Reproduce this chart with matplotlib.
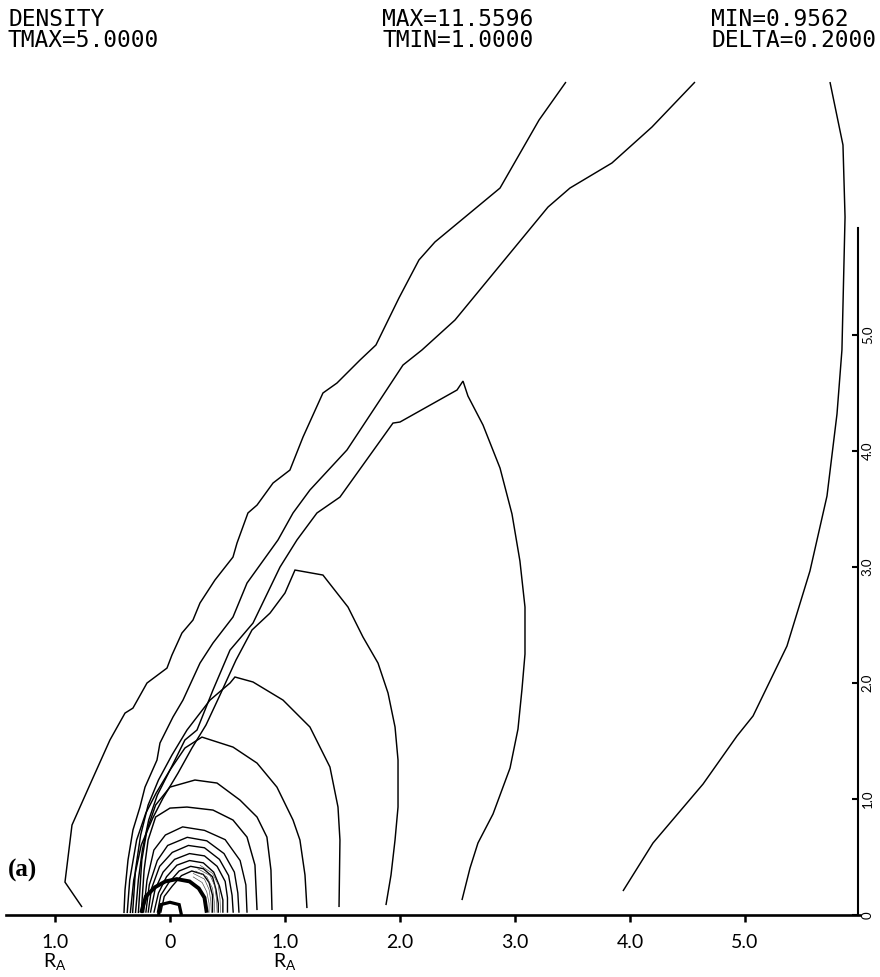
import matplotlib
matplotlib.use("Agg")
import matplotlib.pyplot as plt

# Density contour lines, (x, y) in units of R_A
outer_front = [(-0.765, 0.069), (-0.913, 0.284), (-0.852, 0.776), (-0.678, 1.164), (-0.522, 1.509),
               (-0.391, 1.741), (-0.322, 1.784), (-0.200, 2.000), (-0.026, 2.129), (0.017, 2.241),
               (0.104, 2.431), (0.200, 2.543), (0.261, 2.690), (0.391, 2.888), (0.548, 3.086),
               (0.583, 3.207), (0.678, 3.466), (0.757, 3.534), (0.896, 3.724), (1.043, 3.836),
               (1.157, 4.121), (1.330, 4.500), (1.452, 4.586), (1.652, 4.784), (1.791, 4.914),
               (1.991, 5.319), (2.165, 5.647), (2.304, 5.802), (2.870, 6.267), (3.209, 6.853),
               (3.443, 7.181)]
second_front = [(-0.400, 0.017), (-0.391, 0.216), (-0.365, 0.474), (-0.322, 0.733), (-0.261, 0.931),
                (-0.217, 1.103), (-0.113, 1.336), (-0.087, 1.483), (0.026, 1.707), (0.113, 1.853),
                (0.261, 2.172), (0.374, 2.345), (0.548, 2.569), (0.670, 2.862), (0.939, 3.233),
                (1.070, 3.466), (1.217, 3.664), (1.539, 4.009), (1.826, 4.440), (2.026, 4.741),
                (2.191, 4.871), (2.478, 5.129), (3.287, 6.103), (3.478, 6.267), (3.843, 6.483),
                (4.191, 6.793), (4.565, 7.181)]
peak_shell = [(-0.372, 0.017), (-0.350, 0.302), (-0.290, 0.647), (-0.210, 0.879), (-0.120, 1.052),
              (0.000, 1.250), (0.130, 1.509), (0.235, 1.595), (0.374, 1.940), (0.522, 2.284),
              (0.722, 2.517), (0.957, 3.000), (1.104, 3.233), (1.278, 3.466), (1.478, 3.603),
              (1.939, 4.241), (2.000, 4.250), (2.496, 4.526), (2.548, 4.603), (2.591, 4.474),
              (2.722, 4.224), (2.870, 3.853), (2.974, 3.457), (3.043, 3.052), (3.087, 2.655),
              (3.087, 2.250), (3.061, 1.948), (3.026, 1.603), (2.957, 1.267), (2.809, 0.871),
              (2.678, 0.621), (2.609, 0.405), (2.539, 0.129)]
shell_2 = [(-0.345, 0.017), (-0.315, 0.302), (-0.250, 0.603), (-0.150, 0.836), (-0.060, 1.009),
           (0.070, 1.224), (0.191, 1.440), (0.313, 1.638), (0.435, 1.897), (0.574, 2.198),
           (0.713, 2.457), (0.870, 2.603), (1.000, 2.776), (1.087, 2.974), (1.330, 2.931),
           (1.548, 2.655), (1.678, 2.397), (1.809, 2.172), (1.896, 1.914), (1.957, 1.621),
           (1.983, 1.336), (1.983, 0.931), (1.957, 0.647), (1.922, 0.345), (1.878, 0.086)]
shell_3 = [(-0.325, 0.017), (-0.300, 0.388), (-0.255, 0.690), (-0.190, 0.948), (-0.100, 1.164),
           (0.017, 1.379), (0.148, 1.595), (0.348, 1.853), (0.522, 2.000), (0.565, 2.052),
           (0.722, 2.009), (0.983, 1.853), (1.217, 1.621), (1.391, 1.276), (1.461, 0.931),
           (1.478, 0.647), (1.470, 0.069)]
shell_4 = [(-0.300, 0.017), (-0.275, 0.302), (-0.240, 0.560), (-0.185, 0.819), (-0.110, 1.034),
           (0.000, 1.250), (0.130, 1.440), (0.278, 1.534), (0.548, 1.448), (0.757, 1.310),
           (0.930, 1.103), (1.070, 0.819), (1.130, 0.647), (1.174, 0.345), (1.191, 0.060)]
shell_5 = [(-0.275, 0.017), (-0.245, 0.474), (-0.200, 0.733), (-0.125, 0.948), (0.000, 1.103),
           (0.217, 1.164), (0.409, 1.138), (0.609, 0.991), (0.757, 0.845), (0.843, 0.672),
           (0.878, 0.388), (0.887, 0.043)]
shell_6 = [(-0.250, 0.017), (-0.225, 0.388), (-0.190, 0.647), (-0.125, 0.845), (0.000, 0.922),
           (0.148, 0.931), (0.374, 0.905), (0.548, 0.819), (0.670, 0.672), (0.739, 0.431),
           (0.757, 0.043)]
inner_shells = [
    [(-0.23, 0.02), (-0.20, 0.30), (-0.14, 0.56), (-0.04, 0.69), (0.11, 0.76), (0.30, 0.73),
     (0.48, 0.65), (0.61, 0.47), (0.66, 0.26), (0.67, 0.02)],
    [(-0.21, 0.02), (-0.18, 0.26), (-0.11, 0.47), (-0.02, 0.60), (0.15, 0.67), (0.32, 0.64),
     (0.47, 0.53), (0.56, 0.37), (0.59, 0.19), (0.60, 0.02)],
    [(-0.19, 0.02), (-0.16, 0.23), (-0.09, 0.42), (0.02, 0.54), (0.16, 0.60), (0.30, 0.58),
     (0.43, 0.48), (0.51, 0.34), (0.54, 0.17), (0.55, 0.02)],
    [(-0.17, 0.02), (-0.13, 0.22), (-0.06, 0.37), (0.04, 0.48), (0.17, 0.53), (0.30, 0.51),
     (0.41, 0.42), (0.48, 0.29), (0.50, 0.15), (0.50, 0.02)],
    [(-0.14, 0.02), (-0.10, 0.19), (-0.03, 0.33), (0.06, 0.43), (0.17, 0.47), (0.29, 0.45),
     (0.38, 0.37), (0.43, 0.25), (0.46, 0.13), (0.46, 0.02)],
    [(-0.11, 0.02), (-0.08, 0.17), (-0.01, 0.28), (0.08, 0.38), (0.18, 0.42), (0.29, 0.40),
     (0.37, 0.33), (0.40, 0.22), (0.42, 0.10), (0.42, 0.02)],
    [(-0.08, 0.02), (-0.05, 0.16), (0.02, 0.25), (0.10, 0.34), (0.19, 0.38), (0.29, 0.35),
     (0.34, 0.28), (0.37, 0.17), (0.37, 0.02)],
]
fine_shells = [
    [(0.20, 0.33), (0.28, 0.28), (0.32, 0.20), (0.34, 0.10), (0.34, 0.02)],
    [(0.20, 0.36), (0.30, 0.31), (0.34, 0.22), (0.355, 0.12), (0.36, 0.02)],
    [(0.22, 0.38), (0.32, 0.33), (0.37, 0.23), (0.385, 0.12), (0.39, 0.02)],
    [(0.24, 0.40), (0.35, 0.34), (0.39, 0.25), (0.405, 0.13), (0.41, 0.02)],
    [(0.26, 0.43), (0.37, 0.36), (0.42, 0.26), (0.435, 0.14), (0.44, 0.02)],
]
dense_shell = [(-0.25, 0.02), (-0.21, 0.16), (-0.13, 0.24), (-0.04, 0.29), (0.06, 0.31),
               (0.17, 0.29), (0.25, 0.23), (0.30, 0.15), (0.32, 0.02)]
body = [(-0.10, 0.0), (-0.08, 0.09), (0.00, 0.11), (0.08, 0.09), (0.10, 0.0)]
far_side = [(3.939, 0.207), (4.200, 0.621), (4.635, 1.129), (4.930, 1.543), (5.070, 1.716),
            (5.365, 2.319), (5.565, 2.966), (5.713, 3.612), (5.800, 4.319), (5.843, 4.871),
            (5.870, 6.017), (5.852, 6.638), (5.739, 7.181)]

x_ticks = [-1, 0, 1, 2, 3, 4, 5]
x_tick_labels = ["1.0", "0", "1.0", "2.0", "3.0", "4.0", "5.0"]
y_ticks = [0, 1, 2, 3, 4, 5]
y_tick_labels = ["0", "1.0", "2.0", "3.0", "4.0", "5.0"]
header = ["DENSITY\nTMAX=5.0000", "MAX=11.5596\nTMIN=1.0000", "MIN=0.9562\nDELTA=0.2000"]

W, H = 880, 977
fig = plt.figure(figsize=(W / 100, H / 100), dpi=100)
ax = fig.add_axes([0, 0, 1, 1])
ax.set_xlim(-1.478, 6.174)
ax.set_ylim(-0.534, 7.888)
ax.set_facecolor("white")


def draw(line, lw=1.0, color="black"):
    xs, ys = zip(*line)
    ax.plot(xs, ys, color=color, lw=lw, solid_joinstyle="miter", solid_capstyle="butt")


for line in (outer_front, second_front, peak_shell, shell_2, shell_3, shell_4, shell_5, shell_6,
             far_side):
    draw(line, 1.05)
for line in inner_shells:
    draw(line, 1.0)
for line in fine_shells:
    draw(line, 0.45, "#444444")
draw(dense_shell, 2.8)
draw(body, 2.3)

# axes: horizontal symmetry axis and the vertical scale on the right
for side in ("top", "left"):
    ax.spines[side].set_visible(False)
ax.spines["bottom"].set_position(("data", 0))
ax.spines["bottom"].set_bounds(-1.43, 6.0)
ax.spines["bottom"].set_linewidth(1.9)
ax.spines["right"].set_position(("data", 5.98))
ax.spines["right"].set_bounds(0, 5.92)
ax.spines["right"].set_linewidth(1.5)

tick_font = dict(family="Lato", size=14)
ax.set_xticks(x_ticks)
ax.set_xticklabels(x_tick_labels, **tick_font)
ax.tick_params(axis="x", direction="out", length=5, width=1.8, pad=9, colors="black")
ax.yaxis.tick_right()
ax.set_yticks(y_ticks)
ax.set_yticklabels(y_tick_labels, rotation=90, va="center", family="Lato", size=9.5)
ax.tick_params(axis="y", direction="in", length=4, width=1.5, pad=3)

for xv in (-1, 1):
    ax.text(xv, -0.40, r"$\mathregular{R_A}$", ha="center", va="center", family="Lato", size=14)

ax.text(-1.41, 0.33, "(a)", family="Liberation Serif", weight="bold", size=18, ha="left",
        va="baseline")

col_x = [8, 382, 711]
for c, txt in enumerate(header):
    fig.text(col_x[c] / W, 1 - 8 / H, txt, family="DejaVu Sans Mono", size=16.5,
             ha="left", va="top", linespacing=0.9)

fig.savefig("out.png", dpi=100, facecolor="white")
